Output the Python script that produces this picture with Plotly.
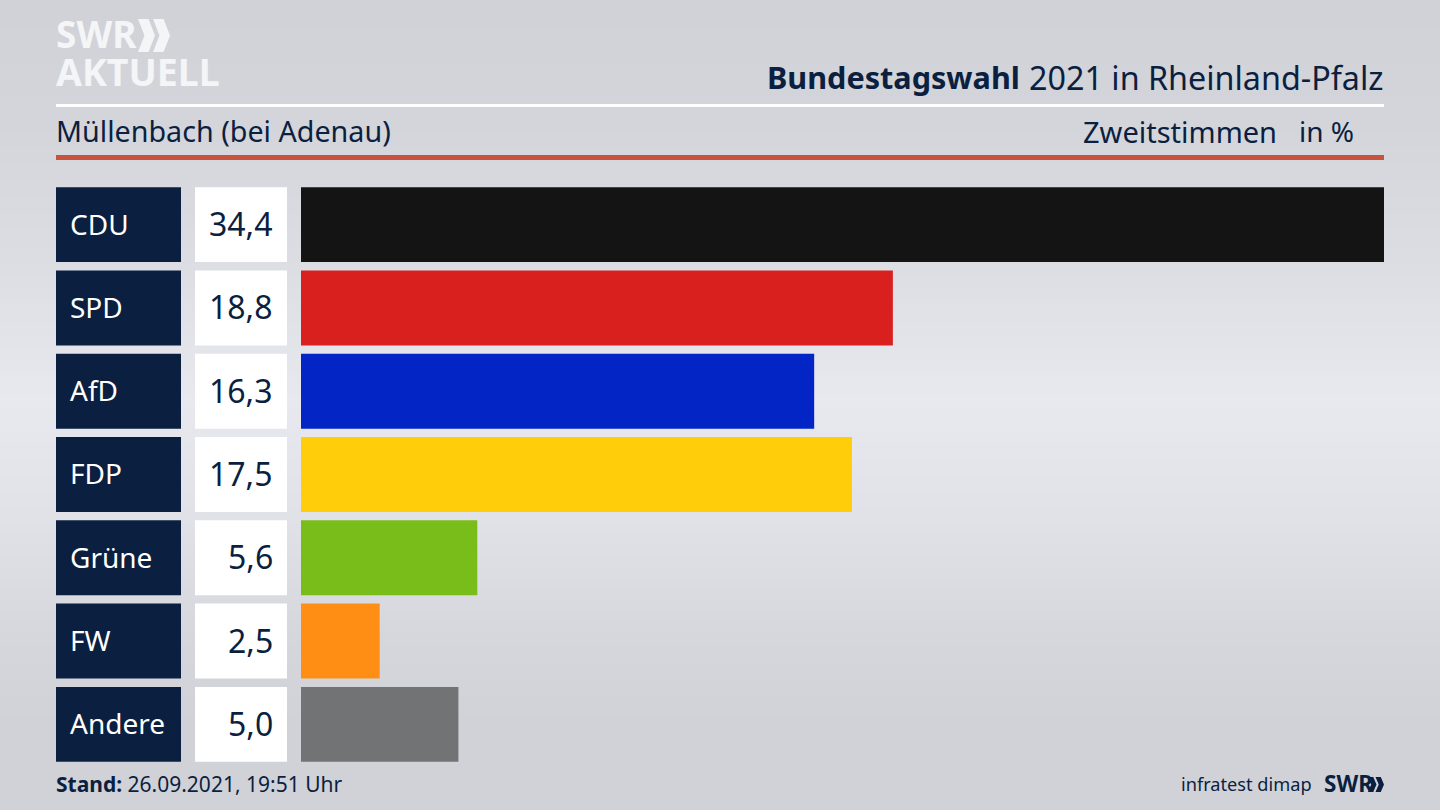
import plotly.graph_objects as go

parties = ["CDU", "SPD", "AfD", "FDP", "Grüne", "FW", "Andere"]
values = [34.4, 18.8, 16.3, 17.5, 5.6, 2.5, 5.0]
value_labels = ["34,4", "18,8", "16,3", "17,5", "5,6", "2,5", "5,0"]
colors = ["#141414", "#d9201f", "#0325c5", "#ffcd0a", "#78bd1a", "#ff8f14", "#727374"]

bg_y = [0, 130, 260, 400, 520, 640, 720, 810]
bg_level = [0.1, 0.25, 0.55, 1.0, 0.72, 0.3, 0.12, 0.1]

W, H = 1440, 810
NAVY = "#0b1f40"
FONT = "Noto Sans"


def px(x):
    return x / W


def py(y):
    return 1 - y / H


fig = go.Figure()
fig.add_trace(go.Heatmap(
    x=[0, W], y=bg_y, z=[[v, v] for v in bg_level],
    colorscale=[[0, "#cdcfd5"], [1, "#e8e9ee"]], zmin=0, zmax=1,
    showscale=False, hoverinfo="skip", zsmooth="best", xaxis="x", yaxis="y",
))
fig.add_trace(go.Bar(
    y=parties, x=values, orientation="h", marker=dict(color=colors, line_width=0),
    xaxis="x2", yaxis="y2", showlegend=False,
))

shapes = []
annotations = []


def rect(x0, y0, x1, y1, color):
    shapes.append(dict(type="rect", xref="paper", yref="paper", x0=px(x0), x1=px(x1),
                       y0=py(y0), y1=py(y1), fillcolor=color, line_width=0, layer="above"))


def text(x, y, s, size, color=NAVY, anchor="left", yref="paper", family=FONT, yshift=0):
    # annotations carry about 2px of built-in padding on each side
    shift = -2 if anchor == "left" else 2
    annotations.append(dict(xref="paper", yref=yref, x=px(x), y=y, text=s, showarrow=False,
                            xanchor=anchor, yanchor="middle", align=anchor, xshift=shift,
                            yshift=yshift, font=dict(family=family, size=size, color=color)))


def chevrons(x, y, w, h, color):
    # two adjoining arrowheads of total size w by h
    u = w * 0.53
    t = u * 0.62
    for k in range(2):
        x0 = x + k * (w - u)
        pts = [(x0, y), (x0 + t, y), (x0 + u, y + h / 2), (x0 + t, y + h), (x0, y + h),
               (x0 + u - t, y + h / 2)]
        path = "M " + " L ".join(f"{px(a):.5f},{py(b):.5f}" for a, b in pts) + " Z"
        shapes.append(dict(type="path", xref="paper", yref="paper", path=path,
                           fillcolor=color, line_width=0, layer="above"))


rect(56, 104, 1384, 107, "#ffffff")
rect(56, 155, 1384, 160, "#c9523f")

for i, (p, lab) in enumerate(zip(parties, value_labels)):
    for x0, x1, c in [(56, 181, NAVY), (195, 287, "#ffffff")]:
        shapes.append(dict(type="rect", xref="paper", yref="y2", x0=px(x0), x1=px(x1),
                           y0=i - 0.45, y1=i + 0.45, fillcolor=c, line_width=0, layer="above"))
    text(70, p, p, 28, "#ffffff", yref="y2", yshift=1)
    text(273, p, lab, 32, NAVY, "right", yref="y2", yshift=1)

text(56, py(130), "Müllenbach (bei Adenau)", 28.7)
text(1020, py(77), "<b>Bundestagswahl</b>", 30.6, anchor="right")
text(1384, py(77), "2021 in Rheinland-Pfalz", 32.3, anchor="right")
text(1277, py(131), "Zweitstimmen", 29, anchor="right")
text(1354, py(131), "in %", 28, anchor="right")
text(56, py(784), "<b>Stand:</b> 26.09.2021, 19:51 Uhr", 21)
text(1312, py(784), "infratest dimap", 18.2, anchor="right")
text(1324, py(783), "<b>SWR</b>", 22.5)
chevrons(1368, 777, 16, 15, NAVY)

text(56, py(34), "<b>SWR</b>", 37, "#f4f5f7")
text(56, py(71), "<b>AKTUELL</b>", 37.5, "#f4f5f7")
chevrons(138, 19, 32, 33, "#f4f5f7")

fig.update_layout(
    width=W, height=H, autosize=False, margin=dict(l=0, r=0, t=0, b=0),
    paper_bgcolor="#dcdde2", plot_bgcolor="rgba(0,0,0,0)", bargap=0.1,
    xaxis=dict(domain=[0, 1], range=[0, W], visible=False, fixedrange=True),
    yaxis=dict(domain=[0, 1], range=[H, 0], visible=False, fixedrange=True),
    xaxis2=dict(domain=[px(301), px(1384)], range=[0, 34.4], visible=False, anchor="y2", fixedrange=True),
    yaxis2=dict(domain=[py(766), py(183)], categoryorder="array", categoryarray=parties,
                autorange="reversed", visible=False, anchor="x2", fixedrange=True),
    shapes=shapes, annotations=annotations,
)
fig.write_html("out.html", config={"displayModeBar": False},
               post_script="document.body.style.margin='0';document.documentElement.style.overflow='hidden';")
